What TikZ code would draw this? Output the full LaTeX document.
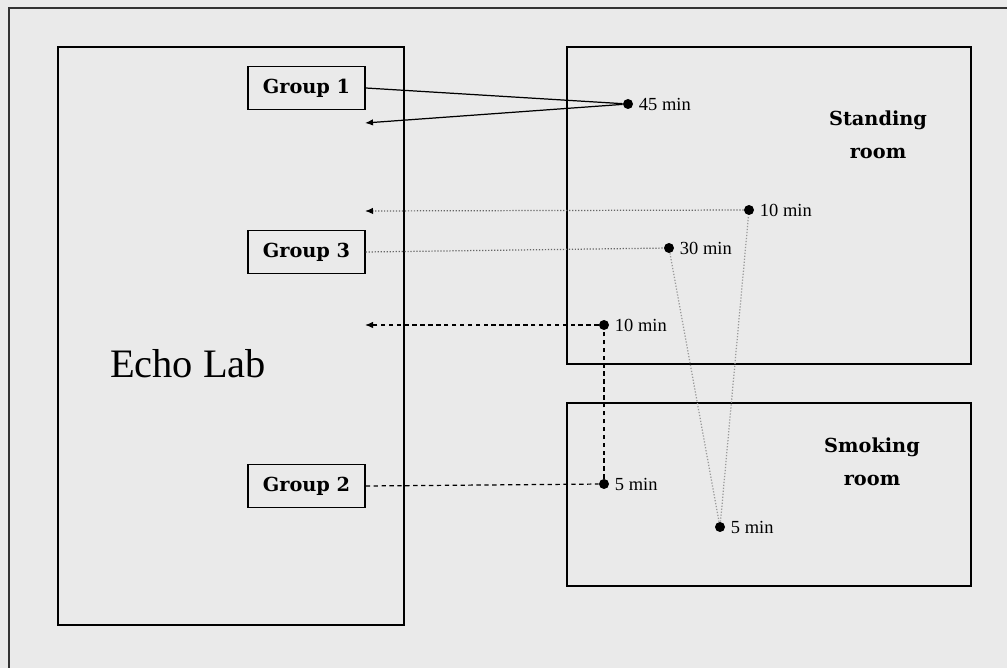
\documentclass[tikz,border=0pt]{standalone}
\usepackage{fontspec}
\setmainfont{Liberation Serif}
\newfontfamily\slabfont{DejaVu Serif}
\usetikzlibrary{arrows.meta}
\definecolor{bgcol}{HTML}{EAEAEA}

\begin{document}
\begin{tikzpicture}[
        x=0.02cm,y=-0.02cm,
        room/.style={draw,line width=0.8pt},
        groupbox/.style={draw,line width=0.8pt,fill=bgcol,minimum width=2.34cm,minimum height=0.86cm,inner sep=0pt,font=\slabfont\bfseries\fontsize{11}{13}\selectfont},
        roomlabel/.style={align=center,font=\slabfont\bfseries\fontsize{11}{18.5}\selectfont},
        waypoint/.style={circle,fill=black,inner sep=0pt,minimum size=0.2cm},
        minlabel/.style={font=\fontsize{10.5}{12}\selectfont,inner sep=1pt,xshift=2pt},
        trip/.style={line width=0.7pt},
        dottrip/.style={black!60,densely dotted,line width=0.7pt},
        dashtrip/.style={dash pattern=on 2.5pt off 2pt,line width=0.7pt},
        tip/.style={-{Latex[length=0.16cm,width=0.13cm,color=black]}}
    ]
            \useasboundingbox[fill=bgcol] (0,0) rectangle (1007,668);

            \draw[line width=0.9pt,black!80] (9,668) -- (9,8) -- (1007,8);

            \draw[room] (58,47) rectangle (404,625);
            \draw[room] (567,47) rectangle (971,364);
            \draw[room] (567,403) rectangle (971,586);

            \node[font=\fontsize{23}{27}\selectfont] (echolab) at (188,364) {Echo Lab};
            \node[roomlabel] (standing) at (878,135) {Standing\\room};
            \node[roomlabel] (smoking) at (872,462) {Smoking\\room};

            \node[groupbox] (g1) at (306.5,88) {Group 1};
            \node[groupbox] (g3) at (306.5,252) {Group 3};
            \node[groupbox] (g2) at (306.5,486) {Group 2};

            \node[
                waypoint,
                label={[minlabel]right:45 min}
            ] (d45) at (628,104) {};
            \node[
                waypoint,
                label={[minlabel]right:10 min}
            ] (d10a) at (749,210) {};
            \node[
                waypoint,
                label={[minlabel]right:30 min}
            ] (d30) at (669,248) {};
            \node[
                waypoint,
                label={[minlabel]right:10 min}
            ] (d10b) at (604,325) {};
            \node[
                waypoint,
                label={[minlabel]right:5 min}
            ] (d5a) at (604,484) {};
            \node[
                waypoint,
                label={[minlabel]right:5 min}
            ] (d5b) at (720,527) {};

            \coordinate (back1) at (365,123);
            \coordinate (back3) at (365,211);
            \coordinate (back2) at (365,325);

            \draw[trip] (g1.east) -- (d45);
            \draw[trip,tip] (d45) -- (back1);

            \draw[dottrip] (g3.east) -- (d30);
            \draw[dottrip,black!40] (d30) -- (d5b);
            \draw[dottrip,black!40] (d5b) -- (d10a);
            \draw[dottrip,tip] (d10a) -- (back3);

            \draw[dashtrip] (g2.east) -- (d5a);
            \draw[dashtrip] (d5a) -- (d10b);
            \draw[dashtrip,tip] (d10b) -- (back2);
        \end{tikzpicture}
\end{document}
